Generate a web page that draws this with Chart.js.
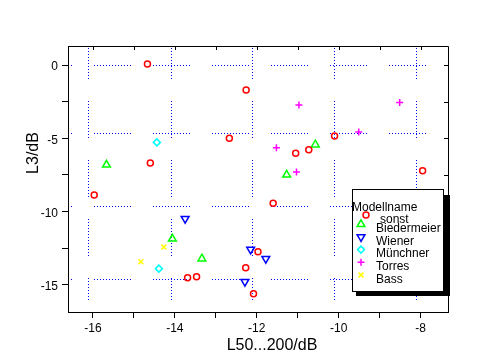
<!DOCTYPE html>
<html>
<head>
<meta charset="utf-8">
<script src="https://cdn.jsdelivr.net/npm/chart.js@4.4.1/dist/chart.umd.min.js"></script>
<style>
    html, body { margin: 0; padding: 0; background: #fff; }
</style>
</head>
<body>
<canvas id="chart" width="490" height="360"></canvas>
<script>
// series names (legend order)
const seriesNames = ['sonst', 'Biedermeier', 'Wiener', 'Münchner', 'Torres', 'Bass'];

// values: L50...200/dB (x) and L3/dB (y)
const sonstX = [-14.67, -12.26, -12.67, -14.60, -10.10, -11.05, -10.73, -7.95, -15.97, -11.60, -13.69, -13.47, -11.97, -12.27, -12.08];
const sonstY = [0.07, -1.71, -5.00, -6.69, -4.85, -6.03, -5.78, -7.22, -8.87, -9.44, -14.52, -14.45, -12.74, -13.84, -15.61];
const biedermeierX = [-15.67, -10.57, -11.27, -14.06, -13.34];
const biedermeierY = [-6.81, -5.44, -7.49, -11.86, -13.22];
const wienerX = [-13.75, -12.15, -11.78, -12.29];
const wienerY = [-10.49, -12.59, -13.22, -14.79];
const muenchnerX = [-14.44, -14.39];
const muenchnerY = [-5.28, -13.90];
const torresX = [-10.97, -8.51, -9.51, -11.52, -11.03];
const torresY = [-2.73, -2.55, -4.57, -5.65, -7.30];
const bassX = [-14.27, -14.83];
const bassY = [-12.42, -13.43];

// axis ticks and labels
const xTicks = [-16, -15, -14, -13, -12, -11, -10, -9, -8];
const xLabels = ['-16', '', '-14', '', '-12', '', '-10', '', '-8'];
const yTicks = [-15, -12.5, -10, -7.5, -5, -2.5, 0];
const yLabels = ['-15', '', '-10', '', '-5', '', '0'];
const xRange = [-16.61, -7.33];
const yRange = [-16.86, 1.30];
const xTitle = 'L50...200/dB';
const yTitle = 'L3/dB';
const legendTitle = 'Modellname';

// the dotted grid of the original sits a bit off the ticks
const gridX = [-16.12, -14.1, -12.12, -10.12, -8.12];
const gridY = [0, -4.65, -9.65, -14.6];

// styles
const colors = ['#ff0000', '#00ff00', '#0000ff', '#00ffff', '#ff00ff', '#ffff00'];
const pointStyles = ['circle', 'triangle', 'triangle', 'rectRot', 'cross', 'crossRot'];
const pointRotations = [0, 0, 180, 0, 0, 0];
const pointRadii = [3, 4.5, 4.5, 3.5, 3.5, 3.5];
const markerWidth = 1.5;
const fontFamily = '"Liberation Sans", Arial, sans-serif';

const xs = [sonstX, biedermeierX, wienerX, muenchnerX, torresX, bassX];
const ys = [sonstY, biedermeierY, wienerY, muenchnerY, torresY, bassY];

function toPoints(xv, yv) {
    return xv.map((v, i) => ({ x: v, y: yv[i] }));
}

const gridDash = [];
for (let i = 0; i < 12; i++) gridDash.push(1, 2);
gridDash.push(1, 22);

const dotGrid = {
    id: 'dotGrid',
    beforeDatasetsDraw(chart) {
        const { ctx, chartArea: a, scales: { x, y } } = chart;
        ctx.save();
        ctx.strokeStyle = '#0000ff';
        ctx.lineWidth = 1;
        ctx.setLineDash(gridDash);
        gridX.forEach(v => {
            const px = Math.round(x.getPixelForValue(v)) + 0.5;
            ctx.lineDashOffset = 4;
            ctx.beginPath();
            ctx.moveTo(px, a.top);
            ctx.lineTo(px, a.bottom - 12);
            ctx.stroke();
        });
        gridY.forEach(v => {
            const py = Math.round(y.getPixelForValue(v)) + 0.5;
            ctx.lineDashOffset = 35;
            ctx.beginPath();
            ctx.moveTo(a.left + 2, py);
            ctx.lineTo(a.right, py);
            ctx.stroke();
        });
        ctx.restore();
    }
};

const frame = {
    id: 'frame',
    afterDraw(chart) {
        const { ctx, chartArea: a, scales: { x, y } } = chart;
        ctx.save();
        ctx.strokeStyle = '#000';
        ctx.lineWidth = 1;
        ctx.beginPath();
        ctx.moveTo(a.left, a.top + 0.5);
        ctx.lineTo(a.right + 0.5, a.top + 0.5);
        ctx.lineTo(a.right + 0.5, a.bottom);
        xTicks.forEach(v => {
            const px = Math.round(x.getPixelForValue(v)) + 0.5;
            ctx.moveTo(px, a.top);
            ctx.lineTo(px, a.top + 4);
        });
        yTicks.forEach(v => {
            const py = Math.round(y.getPixelForValue(v)) + 0.5;
            ctx.moveTo(a.right, py);
            ctx.lineTo(a.right - 4, py);
        });
        ctx.stroke();

        // axis titles
        ctx.fillStyle = '#000';
        ctx.font = '16px ' + fontFamily;
        ctx.textAlign = 'center';
        ctx.textBaseline = 'alphabetic';
        ctx.fillText(xTitle, a.left + 204, a.bottom + 38);
        ctx.translate(a.left - 30.5, a.top + 107);
        ctx.rotate(-Math.PI / 2);
        ctx.fillText(yTitle, 0, 0);
        ctx.restore();
    }
};

function marker(ctx, i, px, py) {
    ctx.save();
    ctx.strokeStyle = colors[i];
    ctx.fillStyle = 'rgba(0,0,0,0)';
    ctx.lineWidth = markerWidth;
    if (Chart.helpers && Chart.helpers.drawPoint) {
        Chart.helpers.drawPoint(ctx, { pointStyle: pointStyles[i], radius: pointRadii[i], rotation: pointRotations[i], borderWidth: markerWidth }, px, py);
    } else {
        ctx.beginPath();
        ctx.arc(px, py, 3, 0, Math.PI * 2);
        ctx.stroke();
    }
    ctx.restore();
}

const boxLegend = {
    id: 'boxLegend',
    afterDraw(chart) {
        const { ctx, chartArea: a } = chart;
        const L = a.right - 96, T = a.bottom - 123, W = 91, H = 102;
        ctx.save();
        ctx.fillStyle = '#000';
        ctx.fillRect(L + 4, T + 6, 94, 101);
        ctx.fillStyle = '#fff';
        ctx.fillRect(L, T, W, H);
        ctx.strokeStyle = '#000';
        ctx.lineWidth = 1;
        ctx.strokeRect(L + 0.5, T + 0.5, W, H);

        ctx.fillStyle = '#000';
        ctx.font = '12px ' + fontFamily;
        ctx.textAlign = 'left';
        ctx.textBaseline = 'alphabetic';
        ctx.fillText(legendTitle, L, T + 22);

        // first entry sits oddly under the title, as in the original
        marker(ctx, 0, L + 14, T + 26);
        ctx.fillStyle = '#000';
        ctx.fillText(seriesNames[0], L + 28, T + 34);
        for (let i = 1; i < seriesNames.length; i++) {
            const base = T + 43 + 12.65 * (i - 1);
            marker(ctx, i, L + 9, base - 7.7);
            ctx.fillStyle = '#000';
            ctx.font = '12px ' + fontFamily;
            ctx.fillText(seriesNames[i], L + 24, base);
        }
        ctx.restore();
    }
};

const datasets = seriesNames.map((name, i) => ({
    label: name,
    data: toPoints(xs[i], ys[i]),
    pointStyle: pointStyles[i],
    pointRotation: pointRotations[i],
    pointRadius: pointRadii[i],
    pointHoverRadius: pointRadii[i],
    borderColor: colors[i],
    backgroundColor: 'rgba(0,0,0,0)',
    pointBorderWidth: markerWidth
}));

const tickFont = { family: fontFamily, size: 12 };

const chart = new Chart(document.getElementById('chart').getContext('2d'), {
    type: 'scatter',
    data: { datasets: datasets },
    options: {
        responsive: false,
        animation: false,
        layout: { padding: { left: 0, top: 46, right: 42, bottom: 0 } },
        plugins: {
            legend: { display: false },
            tooltip: { enabled: false }
        },
        scales: {
            x: {
                type: 'linear',
                min: xRange[0],
                max: xRange[1],
                afterBuildTicks: scale => { scale.ticks = xTicks.map(v => ({ value: v })); },
                afterFit: scale => { scale.height = 48; },
                ticks: {
                    autoSkip: false,
                    maxRotation: 0,
                    padding: 3,
                    color: '#000',
                    font: tickFont,
                    callback: (v, i) => xLabels[i]
                },
                grid: { drawOnChartArea: false, drawTicks: true, tickLength: 6, tickColor: '#000', tickWidth: 1 },
                border: { display: true, color: '#000', width: 1 }
            },
            y: {
                type: 'linear',
                min: yRange[0],
                max: yRange[1],
                afterBuildTicks: scale => { scale.ticks = yTicks.map(v => ({ value: v })); },
                afterFit: scale => { scale.width = 68; },
                ticks: {
                    autoSkip: false,
                    padding: 4,
                    labelOffset: 2,
                    color: '#000',
                    font: tickFont,
                    callback: (v, i) => yLabels[i]
                },
                grid: { drawOnChartArea: false, drawTicks: true, tickLength: 6, tickColor: '#000', tickWidth: 1 },
                border: { display: true, color: '#000', width: 1 }
            }
        }
    },
    plugins: [dotGrid, frame, boxLegend]
});
</script>
</body>
</html>
